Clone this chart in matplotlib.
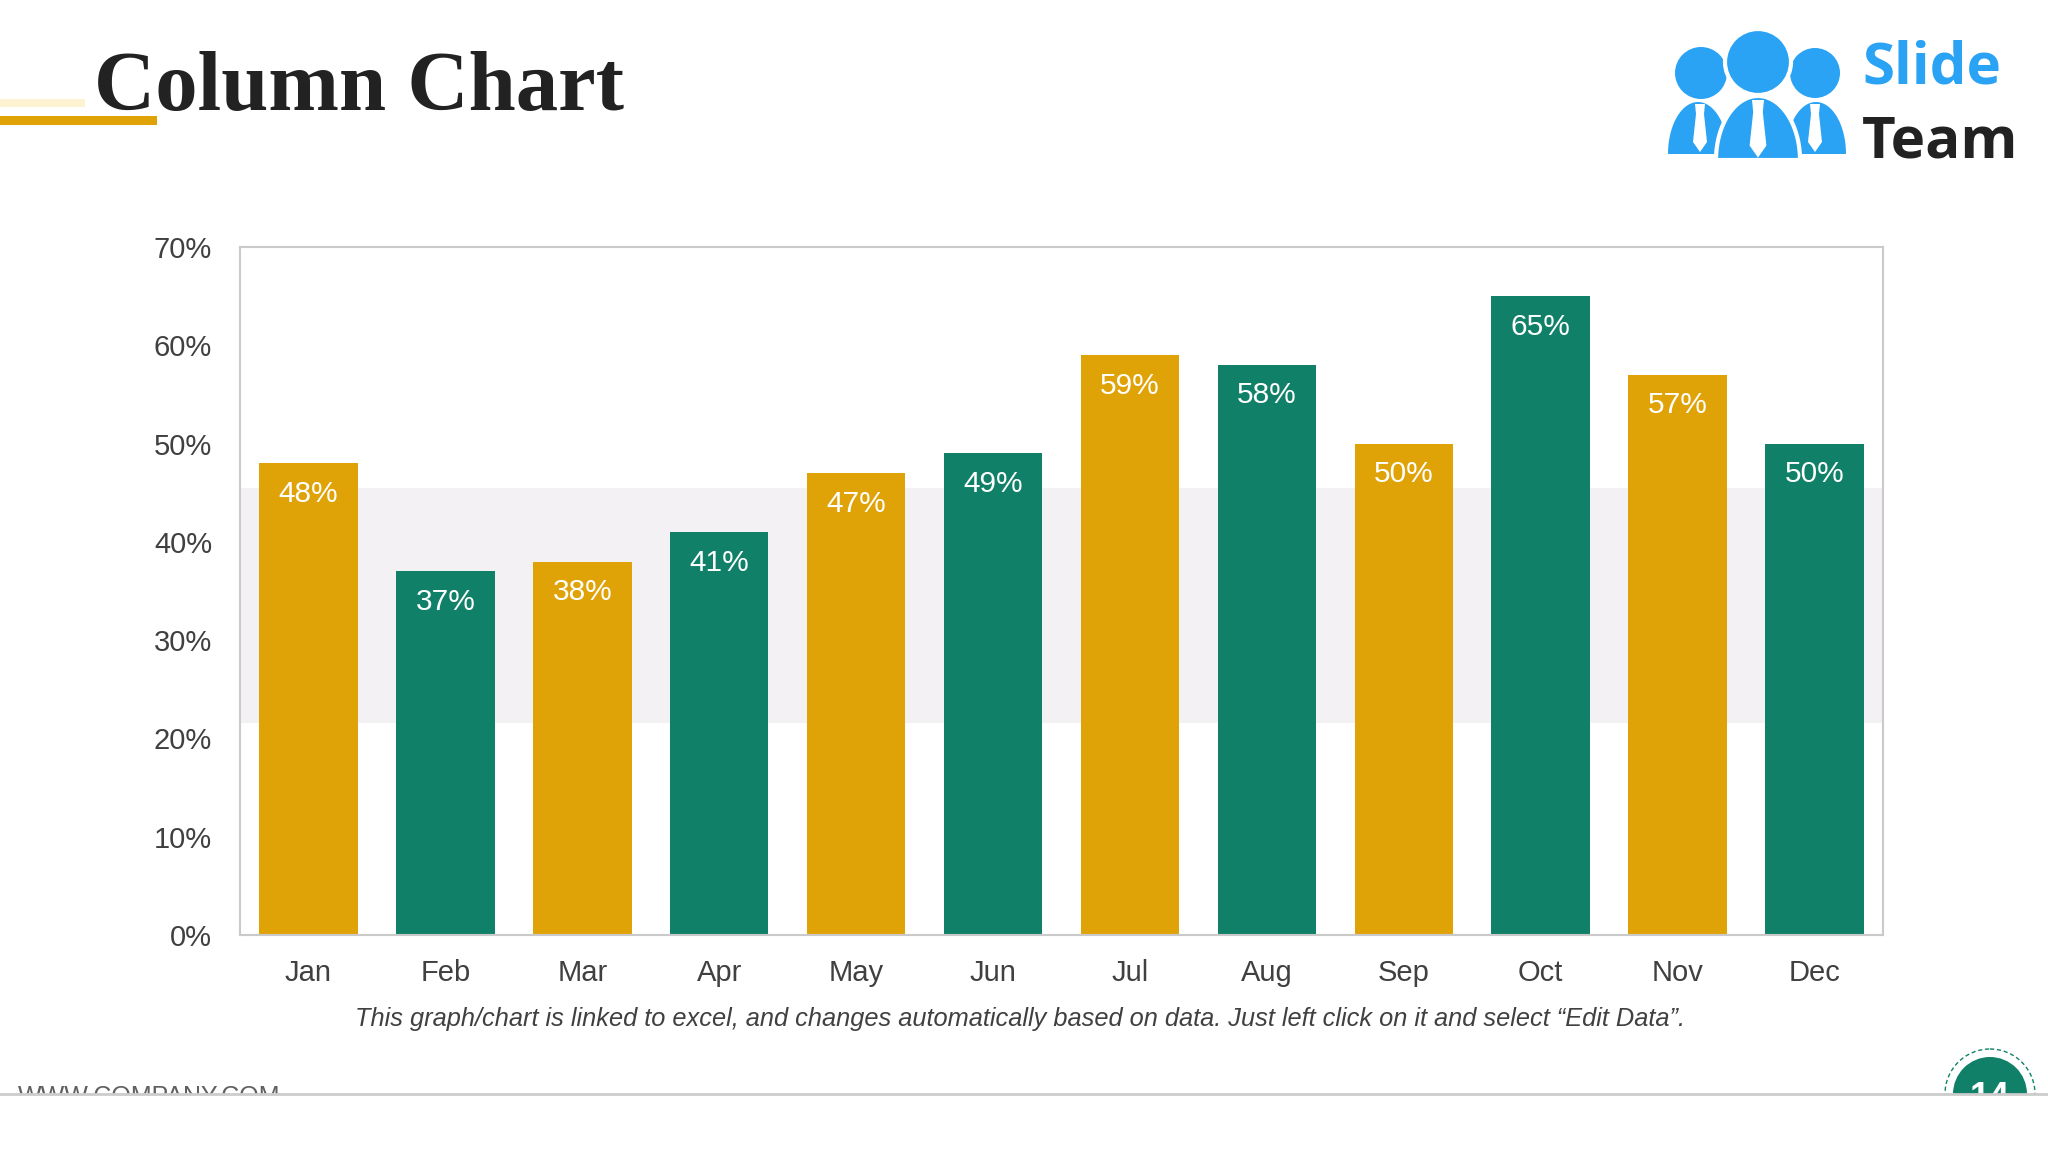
import numpy as np
import matplotlib.pyplot as plt
from matplotlib.patches import Circle, Polygon, Rectangle

months = ['Jan', 'Feb', 'Mar', 'Apr', 'May', 'Jun', 'Jul', 'Aug', 'Sep', 'Oct', 'Nov', 'Dec']
values = [48, 37, 38, 41, 47, 49, 59, 58, 50, 65, 57, 50]
yticks = [0, 10, 20, 30, 40, 50, 60, 70]

gold = '#E0A307'
green = '#108168'
colors = [gold if i % 2 == 0 else green for i in range(len(months))]

fig = plt.figure(figsize=(20.48, 11.52), dpi=100)
fig.patch.set_facecolor('white')

# chart
ax = fig.add_axes([240/2048, 217/1152, 1643/2048, 688/1152])
x = np.arange(len(months))
ax.axhspan(21.6, 45.5, color='#f3f1f3', zorder=0, lw=0)
bars = ax.bar(x, values, width=0.72, color=colors, zorder=2)
for xi, v in zip(x, values):
    ax.annotate(f'{v}%', (xi, v), xytext=(0, -22), textcoords='offset points',
                ha='center', va='center', color='white', fontsize=21.5,
                family='Liberation Sans', zorder=3)
ax.set_xlim(-0.5, 11.5)
ax.set_ylim(0, 70)
ax.set_yticks(yticks)
ax.set_yticklabels([f'{t}%' for t in yticks])
ax.set_xticks(x)
ax.set_xticklabels(months)
ax.tick_params(length=0, labelsize=21, labelcolor='#404040')
ax.tick_params(axis='x', pad=17)
ax.tick_params(axis='y', pad=20)
for lab in ax.get_xticklabels() + ax.get_yticklabels():
    lab.set_family('Liberation Sans')
for s in ax.spines.values():
    s.set_color('#cacaca')
    s.set_linewidth(1.5)

# overlay in pixel coords for slide decorations
ov = fig.add_axes([0, 0, 1, 1], zorder=-1)
ov.set_xlim(0, 2048)
ov.set_ylim(1152, 0)
ov.axis('off')

ov2 = fig.add_axes([0, 0, 1, 1], zorder=5)
ov2.set_xlim(0, 2048)
ov2.set_ylim(1152, 0)
ov2.axis('off')
ov2.patch.set_alpha(0)

ov.add_patch(Rectangle((0, 99), 85, 8, color='#fdf3d2', lw=0))
ov.add_patch(Rectangle((0, 116), 157, 9, color=gold, lw=0))
ov.text(94, 110, 'Column Chart', fontsize=61, fontweight='bold', family='Liberation Serif',
        color='#222222', va='baseline', ha='left')

# logo
blue = '#2AA3F5'

def body(cx, base, rx, ry):
    t = np.linspace(0, np.pi, 60)
    return np.column_stack([cx + rx*np.cos(t), base - ry*np.sin(t)])

for cx, base, rx, ry in [(1698, 154, 30, 52), (1816, 154, 30, 52)]:
    ov.add_patch(Polygon(body(cx, base, rx, ry), closed=True, color=blue, lw=0))
ov.add_patch(Polygon(body(1758, 160, 42, 64), closed=True, fc=blue, ec='white', lw=3))
for cx, cy, r in [(1701, 73, 26), (1815, 73, 25)]:
    ov.add_patch(Circle((cx, cy), r, color=blue, lw=0))
ov.add_patch(Circle((1758, 62), 33, fc=blue, ec='white', lw=3))
for cx, top, s in [(1700, 104, 1.0), (1758, 100, 1.2), (1815, 104, 1.0)]:
    tie = [(cx-5*s, top), (cx+5*s, top), (cx+4*s, top+10*s), (cx+7*s, top+38*s),
           (cx, top+48*s), (cx-7*s, top+38*s), (cx-4*s, top+10*s)]
    ov.add_patch(Polygon(tie, closed=True, color='white', lw=0))
ov.text(1862, 83, 'Slide', fontsize=42, fontweight='bold', family='Open Sans',
        color=blue, va='baseline')
ov.text(1862, 158, 'Team', fontsize=42, fontweight='bold', family='Open Sans',
        color='#222222', va='baseline')

# caption
ov.text(1020, 1019, 'This graph/chart is linked to excel, and changes automatically based on data. '
        'Just left click on it and select \u201cEdit Data\u201d.', fontsize=18.3, style='italic',
        family='Liberation Sans', color='#404040', ha='center', va='center')

# footer (cut off)
ov.text(18, 1104, 'WWW.COMPANY.COM', fontsize=18, family='Liberation Sans', color='#606060',
        va='baseline')
ov.add_patch(Circle((1990, 1094), 45, fill=False, ec=green, lw=1, ls=(0, (3, 2))))
ov.add_patch(Circle((1990, 1094), 37, color=green, lw=0))
ov.text(1990, 1108, '14', fontsize=26, fontweight='bold', family='Liberation Sans',
        color='white', ha='center', va='baseline')
ov2.add_patch(Rectangle((0, 1094), 2048, 60, color='white', lw=0))
ov2.plot([0, 2048], [1094, 1094], color='#cccccc', lw=2)

fig.savefig('out.png', dpi=100)
